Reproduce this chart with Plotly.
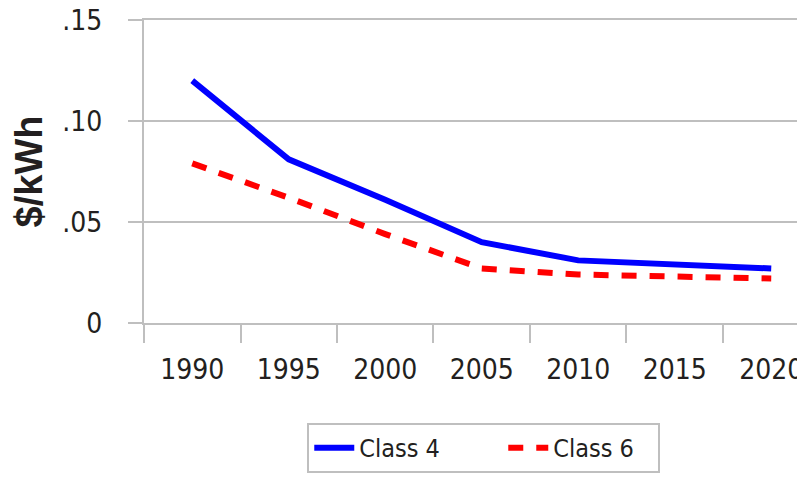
import plotly.graph_objects as go

# ── Data ──────────────────────────────────────────────────────────────────────
years    = ["1990", "1995", "2000", "2005", "2010", "2015", "2020"]
class_4  = [0.120, 0.081, 0.061, 0.040, 0.031, 0.029, 0.027]
class_6  = [0.079, 0.062, 0.044, 0.027, 0.024, 0.023, 0.022]
y_ticks  = [0, 0.05, 0.10, 0.15]
y_labels = ["0", ".05", ".10", ".15"]

_FONT = "DejaVu Sans Condensed, Liberation Sans Narrow, Liberation Sans, Arial, sans-serif"
_TEXT = "#231F20"
_GRID = "#BFBFBF"

fig = go.Figure()
fig.add_trace(go.Scatter(
    x=years, y=class_4, mode="lines", name="Class 4",
    line=dict(color="#0000FF", width=6), legendwidth=139,
))
fig.add_trace(go.Scatter(
    x=years, y=class_6, mode="lines", name="Class 6",
    line=dict(color="#FF0000", width=6, dash="15px,13px"), legendwidth=100,
))

# page body has an 8px margin, so the figure is shifted by 8px
fig.update_layout(
    width=797, height=470,
    paper_bgcolor="white", plot_bgcolor="white",
    font=dict(family=_FONT, size=28, color=_TEXT),
    margin=dict(l=136, r=0, t=12, b=155, autoexpand=False),
    showlegend=True,
    legend=dict(
        orientation="h", x=0.247, xanchor="left", y=-0.33, yanchor="top",
        bordercolor=_GRID, borderwidth=2, bgcolor="white",
        font=dict(size=25), itemwidth=40,
    ),
    xaxis=dict(
        type="category", range=[-0.5, 6.35], tickson="boundaries",
        showgrid=False, showline=True, mirror=True, linecolor=_GRID, linewidth=2,
        ticks="outside", ticklen=18, tickwidth=2, tickcolor=_GRID,
        ticklabelstandoff=20, zeroline=False,
    ),
    yaxis=dict(
        range=[0, 0.15], tickvals=y_ticks, ticktext=y_labels,
        showgrid=True, gridcolor=_GRID, gridwidth=2,
        showline=True, linecolor=_GRID, linewidth=2,
        ticks="outside", ticklen=14, tickwidth=2, tickcolor=_GRID,
        ticklabelstandoff=20, ticklabeloverflow="allow", zeroline=False,
        title=dict(text="<b>$/kWh</b>",
                   font=dict(family="Liberation Sans, Arial, sans-serif", size=38),
                   standoff=20),
    ),
)

fig.write_html("out.html")
